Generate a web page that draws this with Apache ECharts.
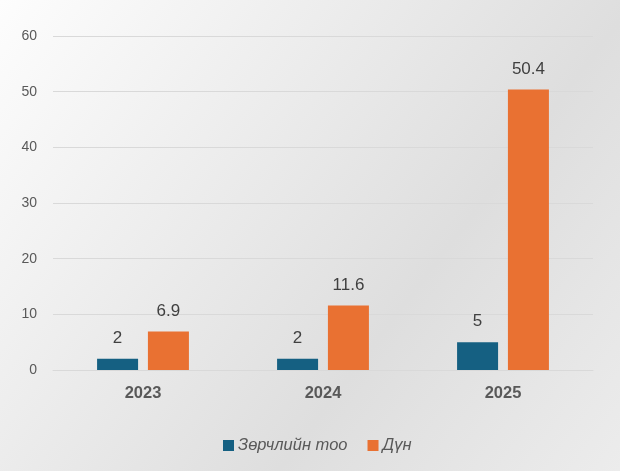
<!DOCTYPE html>
<html>
<head>
<meta charset="utf-8">
<script src="https://cdn.jsdelivr.net/npm/echarts@6/dist/echarts.min.js"></script>
<style>
  html, body { margin: 0; padding: 0; background: #fff; }
  #main { width: 620px; height: 471px; }
</style>
</head>
<body>
<div id="main"></div>
<script>
// data
var years = ['2023', '2024', '2025'];
var countValues = [2, 2, 5];
var amountValues = [6.9, 11.6, 50.4];
var seriesNames = ['Зөрчлийн тоо', 'Дүн'];

var chart = echarts.init(document.getElementById('main'));

var labelStyle = {
    show: true,
    position: 'top',
    distance: 12,
    color: '#404040',
    fontSize: 17,
    fontFamily: 'Liberation Sans'
};

chart.setOption({
    backgroundColor: new echarts.graphic.LinearGradient(0, 0, 1, 1, [
        { offset: 0, color: '#fdfdfd' },
        { offset: 0.65, color: '#dedede' },
        { offset: 1, color: '#ececec' }
    ]),
    textStyle: { fontFamily: 'Liberation Sans' },
    grid: { left: 53, right: 27, top: 36, bottom: 101 },
    legend: {
        data: seriesNames,
        left: 218,
        top: 432,
        itemWidth: 11,
        itemHeight: 11,
        itemGap: 20,
        icon: 'rect',
        textStyle: { color: '#595959', fontSize: 16.5, fontStyle: 'italic', padding: [0, 0, 0, -1] }
    },
    xAxis: {
        type: 'category',
        data: years,
        axisLine: { lineStyle: { color: '#d9d9d9', width: 1 } },
        axisTick: { show: false },
        axisLabel: { color: '#595959', fontSize: 16.5, fontWeight: 'bold', margin: 15 }
    },
    yAxis: {
        type: 'value',
        min: 0,
        max: 60,
        interval: 10,
        axisLine: { show: false },
        axisTick: { show: false },
        splitLine: { lineStyle: { color: '#d9d9d9', width: 1 } },
        axisLabel: { color: '#595959', fontSize: 14, margin: 16 }
    },
    series: [
        {
            name: seriesNames[0],
            type: 'bar',
            data: countValues,
            barWidth: 41,
            barGap: '24%',
            itemStyle: { color: '#156082' },
            label: labelStyle
        },
        {
            name: seriesNames[1],
            type: 'bar',
            data: amountValues,
            barWidth: 41,
            itemStyle: { color: '#E97132' },
            label: labelStyle
        }
    ]
});
</script>
</body>
</html>
